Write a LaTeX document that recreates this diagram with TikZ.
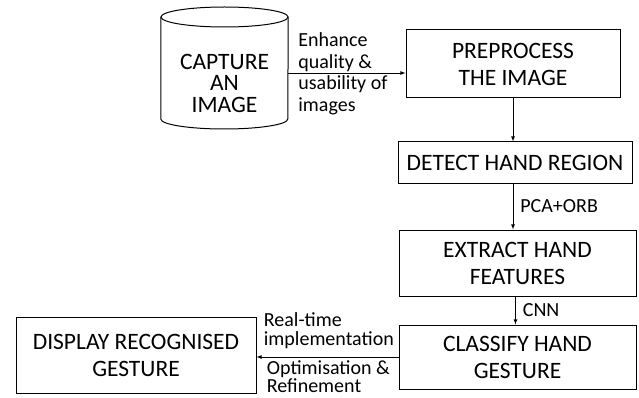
\documentclass[tikz,border=0pt]{standalone}
\usepackage{fontspec}
\setmainfont{Carlito}
\usetikzlibrary{positioning,arrows,calc}

\begin{document}
\begin{tikzpicture}[
      >=latex,
      x=1pt, y=1pt,
      auto
    ]

    \tikzstyle{box} = [rectangle, draw=black, line width=1pt, text centered, align=center, font=\fontsize{23.5}{27}\selectfont]

    \tikzstyle{store} = [align=center, minimum width=127pt, inner sep=0pt, font=\fontsize{23.5}{21.5}\selectfont]

    \tikzstyle{lbl} = [align=left, font=\fontsize{20}{21.5}\selectfont, inner sep=2pt]
    \tikzstyle{lblsmall} = [lbl, font=\fontsize{20}{18.5}\selectfont]

    \tikzstyle{arrow} = [line width=0.8pt, ->]

    \useasboundingbox (0,0) rectangle (639,-398);

    \node [box, minimum width=214pt, minimum height=68pt] (pre) at (513,-64) {PREPROCESS\\THE IMAGE};

    \node [store] (capture) at (224.5,-83) {CAPTURE\\AN\\IMAGE};
    % drum outline round the capture text
    \draw [line width=1pt] ($(capture.center)+(0,66)$) ellipse [x radius=63.5, y radius=10];
    \draw [line width=1pt] ($(capture.west)+(0,66)$) -- ($(capture.west)+(0,-36)$)
        arc [start angle=180, end angle=360, x radius=63.5, y radius=10] -- ($(capture.east)+(0,66)$);

    \node [box, minimum width=234pt, minimum height=41pt] (detect) [below=43pt of pre, xshift=2pt] {DETECT HAND REGION};
    \node [box, minimum width=237pt, minimum height=66pt] (extract) [below=46pt of detect, xshift=2.5pt] {EXTRACT HAND\\FEATURES};
    \node [box, minimum width=237pt, minimum height=64pt] (classify) [below=28pt of extract] {CLASSIFY HAND\\GESTURE};

    \node [box, minimum width=240pt, minimum height=76pt] (display) [left=142pt of classify, yshift=2pt] {DISPLAY RECOGNISED\\GESTURE};

    \node [lbl] (enhance) [right=8pt of capture, yshift=9pt] {Enhance\\quality \&\\usability of\\images};

    \draw [arrow] ($(capture.east)+(0,10)$) -- ($(pre.west)+(0,-9)$);
    \draw [arrow] (pre.south) -- (pre.south |- detect.north);
    \draw [arrow] (pre.south |- detect.south) -- (pre.south |- extract.north) node[lbl, right, midway, xshift=5pt] (pca) {PCA+ORB};
    \draw [arrow] ($(extract.south)+(-2,0)$) -- ($(classify.north)+(-2,0)$) node[lbl, right, midway, xshift=5pt] (cnn) {CNN};
    \draw [arrow] (classify.west) -- (classify.west -| display.east)
        node[lblsmall, anchor=south west, pos=1, xshift=5pt, yshift=6pt] (realtime) {Real-time\\implementation}
        node[lblsmall, anchor=north west, pos=1, xshift=9pt, yshift=-2pt, inner sep=1pt] (optim) {Optimisation \&\\Refinement};

\end{tikzpicture}
\end{document}
